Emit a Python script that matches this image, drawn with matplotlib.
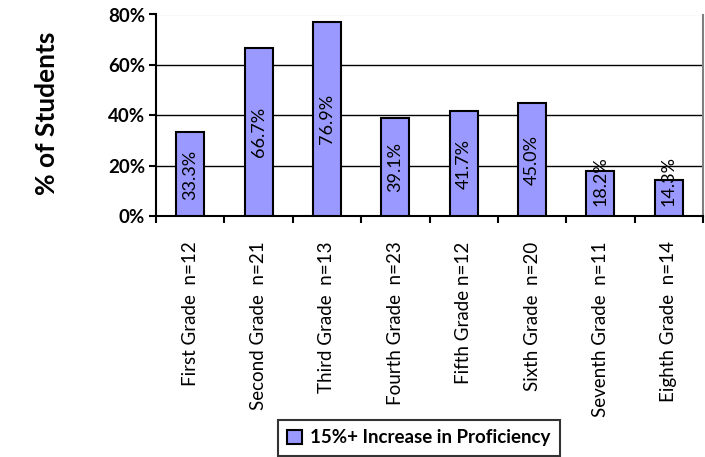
import matplotlib
matplotlib.use("Agg")
import matplotlib.pyplot as plt
import numpy as np

categories = ["First Grade  n=12", "Second Grade  n=21", "Third Grade  n=13",
              "Fourth Grade  n=23", "Fifth Grade n=12", "Sixth Grade  n=20",
              "Seventh Grade  n=11", "Eighth Grade  n=14"]
values = [33.3, 66.7, 76.9, 39.1, 41.7, 45.0, 18.2, 14.3]
series_name = "15%+ Increase in Proficiency"
yticks = [0, 20, 40, 60, 80]

plt.rcParams['font.family'] = ['Lato', 'DejaVu Sans']

fig = plt.figure(figsize=(7.05, 4.57), dpi=100)
ax = fig.add_axes([156/705, 1-216.5/457, (703-156)/705, (216.5-14.5)/457])

x = np.arange(len(values))
bars = ax.bar(x, values, width=0.41, color="#9999FF", edgecolor="black",
              linewidth=1.5, zorder=3, label=series_name)

ax.set_xlim(-0.5, len(values)-0.5)
ax.set_ylim(0, 80)
ax.set_yticks(yticks)
ax.set_yticklabels([f"{t}%" for t in yticks], fontsize=13.5, fontweight="bold")
for t in yticks[1:-1]:
    ax.axhline(t, color="black", linewidth=1, zorder=1)
ax.axhline(80, color="#808080", linewidth=1.5, zorder=1)

ax.set_xticks(x)
ax.set_xticklabels(categories, rotation=90, fontsize=13.5)
ax.set_xticks(np.arange(len(values)+1)-0.5, minor=True)
ax.tick_params(axis="x", which="major", length=0, pad=18)
ax.tick_params(axis="x", which="minor", length=5, width=1.5, direction="out")
ax.tick_params(axis="y", length=5, width=1.5, direction="out", pad=3)

for s in ["top", "right"]:
    ax.spines[s].set_visible(False)
ax.spines["left"].set_linewidth(1.5)
ax.spines["bottom"].set_linewidth(1.5)
ax.axvline(len(values)-0.5, color="#808080", linewidth=1.5, zorder=1, clip_on=False)

for xi, v in zip(x, values):
    ax.text(xi, max(v/2, 13.9), f"{v:.1f}%", rotation=90, ha="center", va="center",
            fontsize=13, zorder=4)

fig.text(47/705, 1-113/457, "% of Students", rotation=90, ha="center", va="center",
         fontsize=19, fontweight="bold")

leg = fig.legend(handles=[bars], labels=[series_name], loc="upper left",
                 bbox_to_anchor=(278/705, 1-420/457),
                 fontsize=13.5, frameon=True, fancybox=False, edgecolor="black",
                 handlelength=0.8, handleheight=0.8, borderpad=0.5, handletextpad=0.4,
                 borderaxespad=0)
leg.get_frame().set_linewidth(1.5)
for t in leg.get_texts():
    t.set_fontweight("bold")

fig.savefig("out.png", dpi=100)
